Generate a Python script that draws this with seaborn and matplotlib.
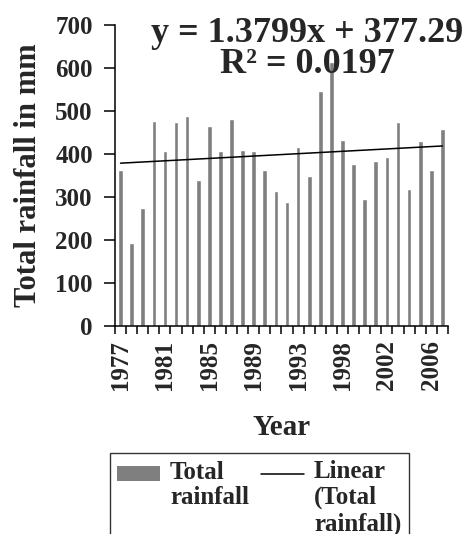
import numpy as np
import pandas as pd
import matplotlib
matplotlib.use("Agg")
import matplotlib.pyplot as plt
from matplotlib.ticker import FixedLocator
from matplotlib.patches import Patch
from matplotlib.lines import Line2D
from matplotlib.legend_handler import HandlerPatch, HandlerLine2D
import seaborn as sns

# Years (1997 missing in the series) and total rainfall
years = list(range(1977, 1997)) + list(range(1998, 2008))
rainfall = [362, 193, 274, 477, 407, 474, 488, 339, 464, 407,
            481, 410, 407, 362, 315, 288, 416, 349, 546, 615,
            433, 376, 295, 383, 393, 474, 319, 431, 363, 457]

# Excel linear trendline as printed on the chart
slope = 1.3799
intercept = 377.29
r_squared = 0.0197


# legend handles sit on the first text line, like Excel does it
class TopPatch(HandlerPatch):
    def __init__(self, up, **kw):
        super().__init__(**kw)
        self.up = up

    def create_artists(self, legend, orig_handle, xdescent, ydescent, width, height, fontsize, trans):
        return super().create_artists(legend, orig_handle, xdescent, ydescent - self.up * fontsize,
                                      width, height, fontsize, trans)


class TopLine(HandlerLine2D):
    def __init__(self, up, **kw):
        super().__init__(**kw)
        self.up = up

    def create_artists(self, legend, orig_handle, xdescent, ydescent, width, height, fontsize, trans):
        return super().create_artists(legend, orig_handle, xdescent, ydescent - 2 * self.up * fontsize,
                                      width, height, fontsize, trans)


sns.set_style("white")
plt.rcParams['font.family'] = ['Liberation Serif', 'DejaVu Serif']
plt.rcParams['font.weight'] = 'bold'

df = pd.DataFrame({'Year': [str(y) for y in years], 'Rainfall': rainfall})

fig = plt.figure(figsize=(4.68, 5.34), dpi=100)
ax = fig.add_axes([0.2457, 0.3895, 0.7115, 0.5637])

sns.barplot(data=df, x='Year', y='Rainfall', color='#7f7f7f', saturation=1,
            width=0.42, ax=ax)

# trendline over x = 1..n (bar positions 0..n-1)
pos = np.arange(len(years))
ax.plot(pos, slope * (pos + 1) + intercept, color='black', lw=1.1)

ax.set_ylim(0, 700)
ax.set_xlim(-0.5, len(years) - 0.5)
ax.set_yticks(range(0, 701, 100))
ax.set_xticks(pos[::4])
ax.set_xticklabels(df['Year'][::4], rotation=90, fontsize=18, fontweight='bold')
ax.xaxis.set_minor_locator(FixedLocator(np.arange(-0.5, len(years), 1)))
ax.tick_params(axis='x', which='both', bottom=True)
ax.tick_params(axis='x', which='major', length=0, pad=10)
ax.tick_params(axis='x', which='minor', length=6, width=1.1, color='black', direction='out')
ax.tick_params(axis='y', left=True, length=8, width=1.1, color='black', labelsize=18,
               pad=8, direction='out')
for lab in ax.get_yticklabels():
    lab.set_fontweight('bold')

for s in ['top', 'right']:
    ax.spines[s].set_visible(False)
for s in ['left', 'bottom']:
    ax.spines[s].set_color('black')
    ax.spines[s].set_linewidth(1.1)

ax.set_xlabel('Year', fontsize=21, fontweight='bold', labelpad=17)
ax.set_ylabel('Total rainfall in mm', fontsize=22, fontweight='bold', labelpad=9)

fig.text(0.656, 0.937, f'y = {slope}x + {intercept}', ha='center', va='center',
         fontsize=26, fontweight='bold')
fig.text(0.656, 0.879, f'R² = {r_squared}', ha='center', va='center',
         fontsize=26, fontweight='bold')

handles = [Patch(facecolor='#7f7f7f', edgecolor='none'),
           Line2D([0], [0], color='black', lw=1.1)]
# blank third line keeps both entries top-aligned
labels = ['Total\nrainfall\n ', 'Linear\n(Total\nrainfall)']
leg = fig.legend(handles, labels, loc='upper left', bbox_to_anchor=(0.235, 0.152),
                 borderaxespad=0, ncol=2, frameon=True, fancybox=False, fontsize=18,
                 handlelength=1.7, handleheight=0.55, handletextpad=0.4, columnspacing=0.5,
                 borderpad=0.3, labelspacing=0.3,
                 handler_map={Patch: TopPatch(1.0), Line2D: TopLine(1.0)})
leg.get_frame().set_edgecolor('black')
leg.get_frame().set_linewidth(1.0)
for t in leg.get_texts():
    t.set_fontweight('bold')
    t.set_linespacing(1.15)

fig.savefig('out.png', dpi=100)
